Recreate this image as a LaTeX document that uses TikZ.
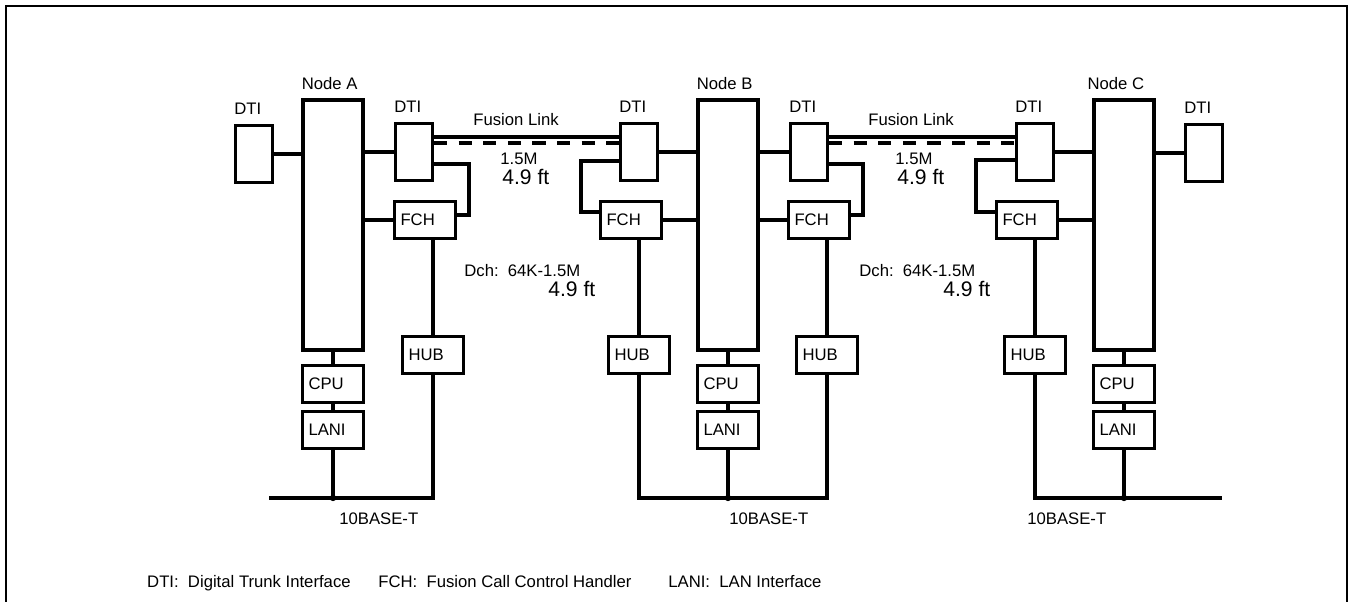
\documentclass[tikz,border=0pt]{standalone}
\usepackage{fontspec}
\setmainfont{Liberation Sans}
\usetikzlibrary{calc}
\tikzset{dti/.style={draw,line width=1.8pt,minimum width=0.74cm,minimum height=1.15cm,inner sep=0pt},
	pbx/.style={draw,line width=1.8pt,minimum width=1.2cm,minimum height=5cm,inner sep=0pt},
	unit/.style={draw,line width=1.8pt,minimum height=0.75cm,text width=0.98cm,inner xsep=3.4pt,
		inner ysep=0pt,align=left,font=\fontsize{9.5}{11}\selectfont},
	tag/.style={font=\fontsize{9.5}{11}\selectfont,inner sep=0pt,anchor=base west},
	big/.style={font=\fontsize{12}{14}\selectfont,inner sep=0pt,anchor=base west},
	wire/.style={line width=1.8pt}}

\begin{document}
\begin{tikzpicture}[x=0.02cm,y=-0.02cm]
				\useasboundingbox (0,0) rectangle (1350,602);
				\draw[line width=1.2pt] (6,602) -- (6,6) -- (1347,6) -- (1347,602);
				% node A
				\node[pbx] (nodeA) at (333,225) {};
				\node[dti] (dtiAl) at (254,154) {};
				\node[dti] (dtiAr) at (414,152) {};
				\node[unit] (fchA) at (425,220) {FCH};
				\node[unit] (hubA) at (433,355) {HUB};
				\node[unit] (cpuA) at (333,384) {CPU};
				\node[unit] (laniA) at (333,430) {LANI};
				% node B
				\node[pbx] (nodeB) at (728,225) {};
				\node[dti] (dtiBl) at (639,152) {};
				\node[dti] (dtiBr) at (809,152) {};
				\node[unit] (fchBl) at (631,220) {FCH};
				\node[unit] (fchBr) at (819,220) {FCH};
				\node[unit] (hubBl) at (639,355) {HUB};
				\node[unit] (hubBr) at (827,355) {HUB};
				\node[unit] (cpuB) at (728,384) {CPU};
				\node[unit] (laniB) at (728,430) {LANI};
				% node C
				\node[pbx] (nodeC) at (1124,225) {};
				\node[dti] (dtiCl) at (1035,152) {};
				\node[dti] (dtiCr) at (1204,153) {};
				\node[unit] (fchC) at (1027,220) {FCH};
				\node[unit] (hubC) at (1035,355) {HUB};
				\node[unit] (cpuC) at (1124,384) {CPU};
				\node[unit] (laniC) at (1124,430) {LANI};
				% titles over the boxes
				\node[tag,yshift=5pt] (tNodeA) at (nodeA.north west) {Node A};
				\node[tag,yshift=5pt] (tNodeB) at (nodeB.north west) {Node B};
				\node[tag,yshift=5pt,xshift=-3pt] (tNodeC) at (nodeC.north west) {Node C};
				\node[tag,yshift=5pt] (tDtiAl) at (dtiAl.north west) {DTI};
				\node[tag,yshift=5pt] (tDtiAr) at (dtiAr.north west) {DTI};
				\node[tag,yshift=5pt] (tDtiBl) at (dtiBl.north west) {DTI};
				\node[tag,yshift=5pt] (tDtiBr) at (dtiBr.north west) {DTI};
				\node[tag,yshift=5pt] (tDtiCl) at (dtiCl.north west) {DTI};
				\node[tag,yshift=5pt] (tDtiCr) at (dtiCr.north west) {DTI};
				% wiring A
				\draw[wire] (dtiAl.east) -- (nodeA.west |- dtiAl.east);
				\draw[wire] (nodeA.east |- dtiAr.west) -- (dtiAr.west);
				\draw[wire] (nodeA.east |- fchA.west) -- (fchA.west);
				\draw[wire] ($(dtiAr.east)+(0,12)$) -| ($(fchA.east)+(12,-5)$) -- ($(fchA.east)+(0,-5)$);
				\draw[wire] (fchA.south -| hubA.north) -- (hubA.north);
				\draw[wire] (nodeA.south) -- (cpuA.north) (cpuA.south) -- (laniA.north);
				% wiring B
				\draw[wire] (dtiBl.east) -- (nodeB.west |- dtiBl.east);
				\draw[wire] (fchBl.east) -- (nodeB.west |- fchBl.east);
				\draw[wire] ($(dtiBl.west)+(0,9)$) -| ($(fchBl.west)+(-18,-8)$) -- ($(fchBl.west)+(0,-8)$);
				\draw[wire] (nodeB.east |- dtiBr.west) -- (dtiBr.west);
				\draw[wire] (nodeB.east |- fchBr.west) -- (fchBr.west);
				\draw[wire] ($(dtiBr.east)+(0,12)$) -| ($(fchBr.east)+(12,-5)$) -- ($(fchBr.east)+(0,-5)$);
				\draw[wire] (fchBl.south -| hubBl.north) -- (hubBl.north);
				\draw[wire] (fchBr.south -| hubBr.north) -- (hubBr.north);
				\draw[wire] (nodeB.south) -- (cpuB.north) (cpuB.south) -- (laniB.north);
				% wiring C
				\draw[wire] (dtiCl.east) -- (nodeC.west |- dtiCl.east);
				\draw[wire] (fchC.east) -- (nodeC.west |- fchC.east);
				\draw[wire] ($(dtiCl.west)+(0,8)$) -| ($(fchC.west)+(-19,-8)$) -- ($(fchC.west)+(0,-8)$);
				\draw[wire] (nodeC.east |- dtiCr.west) -- (dtiCr.west);
				\draw[wire] (fchC.south -| hubC.north) -- (hubC.north);
				\draw[wire] (nodeC.south) -- (cpuC.north) (cpuC.south) -- (laniC.north);
				% fusion links
				\draw[wire] ($(dtiAr.east)+(0,-15)$) -- ($(dtiBl.west)+(0,-15)$);
				\draw[wire,dash pattern=on 7.5pt off 6.5pt] ($(dtiAr.east)+(0,-9)$) -- ($(dtiBl.west)+(0,-9)$);
				\draw[wire] ($(dtiBr.east)+(0,-15)$) -- ($(dtiCl.west)+(0,-15)$);
				\draw[wire,dash pattern=on 7.5pt off 6.5pt] ($(dtiBr.east)+(0,-9)$) -- ($(dtiCl.west)+(0,-9)$);
				% 10BASE-T
				\coordinate (busA) at (269,498);
				\coordinate (busB) at (728,498);
				\coordinate (busC) at (1222,498);
				\draw[wire] (busA) -| (hubA.south);
				\draw[wire] (laniA.south) -- (laniA.south |- busA);
				\fill (laniA.south |- busA) circle (1.8pt);
				\draw[wire] (hubBl.south) |- (busB) -| (hubBr.south);
				\draw[wire] (laniB.south) -- (busB);
				\fill (busB) circle (1.8pt);
				\draw[wire] (hubC.south) |- (busC);
				\draw[wire] (laniC.south) -- (laniC.south |- busC);
				\fill (laniC.south |- busC) circle (1.8pt);
				% text
				\node[tag] (fusAB) at (473,125) {Fusion Link};
				\node[tag] (rateAB) at (500,164) {1.5M};
				\node[big] (lenAB) at (502,184) {4.9 ft};
				\node[tag] (fusBC) at (868,125) {Fusion Link};
				\node[tag] (rateBC) at (895,164) {1.5M};
				\node[big] (lenBC) at (897,184) {4.9 ft};
				\node[tag] (dchA) at (464,276) {Dch:\ \ 64K-1.5M};
				\node[big] (dlenA) at (548,296) {4.9 ft};
				\node[tag] (dchB) at (859,276) {Dch:\ \ 64K-1.5M};
				\node[big] (dlenB) at (943,296) {4.9 ft};
				\node[tag] (baseA) at (339,524) {10BASE-T};
				\node[tag] (baseB) at (729,524) {10BASE-T};
				\node[tag] (baseC) at (1027,524) {10BASE-T};
				\node[tag,anchor=base east] (keyDti) at (351,587) {DTI:\ \ Digital Trunk Interface};
				\node[tag] (keyFch) at (378,587) {FCH:\ \ Fusion Call Control Handler};
				\node[tag] (keyLani) at (668,587) {LANI:\ \ LAN Interface};
			\end{tikzpicture}
\end{document}
